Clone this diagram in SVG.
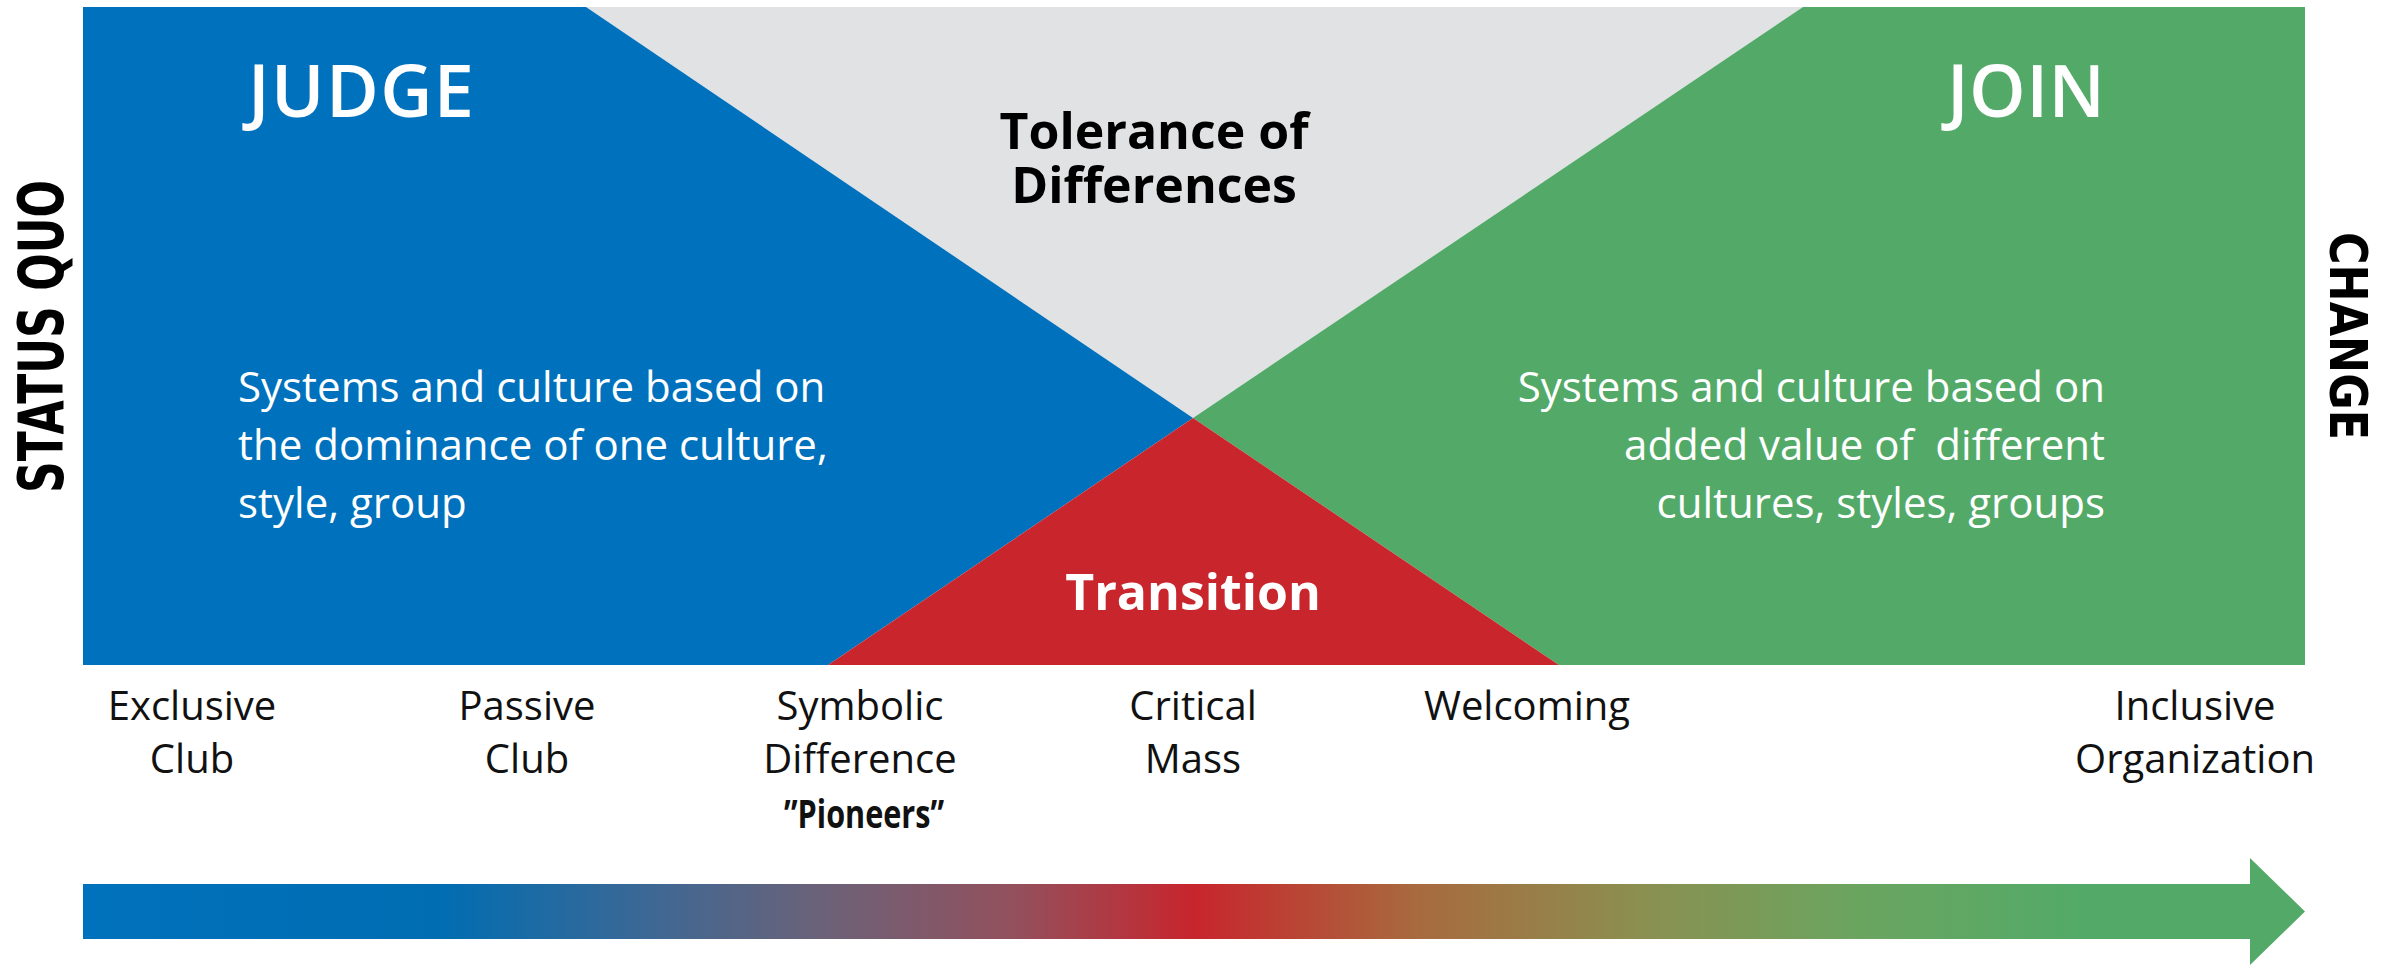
<svg xmlns="http://www.w3.org/2000/svg" width="2397" height="965" viewBox="0 0 2397 965">
  <style>
    .lbl { font-family: "Open Sans", "Liberation Sans", sans-serif; fill: #111; font-size: 40px; text-anchor: middle; }
    .head { font-family: "Open Sans", "Liberation Sans", sans-serif; fill: #fff; font-size: 72px; font-weight: 600; }
    .body { font-family: "Open Sans", "Liberation Sans", sans-serif; fill: #fff; font-size: 42px; }
    .zone { font-family: "Open Sans", "Liberation Sans", sans-serif; font-weight: 700; font-size: 50px; text-anchor: middle; }
    .axis { font-family: "DejaVu Sans", "Liberation Sans", sans-serif; font-weight: 700; fill: #000; text-anchor: middle; }
  </style>
  <defs>
    <linearGradient id="flow" gradientUnits="userSpaceOnUse" x1="83" y1="0" x2="2305" y2="0">
      <stop offset="0" stop-color="#0071BC"/>
      <stop offset="0.16" stop-color="#006DB2"/>
      <stop offset="0.25" stop-color="#3A6896"/>
      <stop offset="0.33" stop-color="#6A6279"/>
      <stop offset="0.42" stop-color="#93505C"/>
      <stop offset="0.5" stop-color="#C8252D"/>
      <stop offset="0.6" stop-color="#A86A3E"/>
      <stop offset="0.7" stop-color="#8B8F50"/>
      <stop offset="0.8" stop-color="#6AA560"/>
      <stop offset="0.9" stop-color="#53AA68"/>
      <stop offset="1" stop-color="#53AA68"/>
    </linearGradient>
  </defs>

  <rect width="2397" height="965" fill="#fff"/>

  <!-- Four zones of the panel -->
  <g id="tolerance">
    <polygon points="586,7 1803,7 1193,418" fill="#E1E2E4"/>
    <text class="zone" fill="#000"><tspan x="1154" y="149">Tolerance of</tspan><tspan x="1154" y="203">Differences</tspan></text>
  </g>

  <g id="judge">
    <polygon points="83,7 586,7 1193,418 828,665 83,665" fill="#0071BC"/>
    <text class="head" x="248" y="117" textLength="226" lengthAdjust="spacing">JUDGE</text>
    <text class="body" x="238" y="402">Systems and culture based on</text>
    <text class="body" x="238" y="460">the dominance of one culture,</text>
    <text class="body" x="238" y="518">style, group</text>
  </g>

  <g id="join">
    <polygon points="1803,7 2305,7 2305,665 1559,665 1193,418" fill="#53AA68"/>
    <text class="head" x="2105" y="117" text-anchor="end" textLength="158" lengthAdjust="spacing">JOIN</text>
    <text class="body" x="2105" y="402" text-anchor="end">Systems and culture based on</text>
    <text class="body" x="2105" y="460" text-anchor="end" xml:space="preserve">added value of  different</text>
    <text class="body" x="2105" y="518" text-anchor="end">cultures, styles, groups</text>
  </g>

  <g id="transition">
    <polygon points="1193,418 828,665 1559,665" fill="#C8252D"/>
    <text class="zone" x="1193" y="610" fill="#fff">Transition</text>
  </g>

  <!-- Side captions -->
  <g id="status-quo">
    <text class="axis" font-size="62" transform="translate(63,336.5) rotate(-90)" textLength="313" lengthAdjust="spacingAndGlyphs">STATUS QUO</text>
  </g>
  <g id="change">
    <text class="axis" font-size="52" transform="translate(2330,336) rotate(90)" textLength="208" lengthAdjust="spacingAndGlyphs">CHANGE</text>
  </g>

  <!-- Stages along the scale -->
  <g id="exclusive-club">
    <text class="lbl" x="192" y="720">Exclusive</text>
    <text class="lbl" x="192" y="773">Club</text>
  </g>
  <g id="passive-club">
    <text class="lbl" x="527" y="720">Passive</text>
    <text class="lbl" x="527" y="773">Club</text>
  </g>
  <g id="symbolic-difference">
    <text class="lbl" x="860" y="720">Symbolic</text>
    <text class="lbl" x="860" y="773">Difference</text>
    <text class="lbl" x="864" y="828" font-size="28" font-weight="700" textLength="160" lengthAdjust="spacingAndGlyphs">”Pioneers”</text>
  </g>
  <g id="critical-mass">
    <text class="lbl" x="1193" y="720">Critical</text>
    <text class="lbl" x="1193" y="773">Mass</text>
  </g>
  <g id="welcoming">
    <text class="lbl" x="1527" y="720">Welcoming</text>
  </g>
  <g id="inclusive-organization">
    <text class="lbl" x="2195" y="720">Inclusive</text>
    <text class="lbl" x="2195" y="773">Organization</text>
  </g>

  <!-- Progress arrow -->
  <g id="connectors">
    <polygon points="83,884 2250,884 2250,858 2305,911.5 2250,965 2250,939 83,939" fill="url(#flow)"/>
  </g>
</svg>
